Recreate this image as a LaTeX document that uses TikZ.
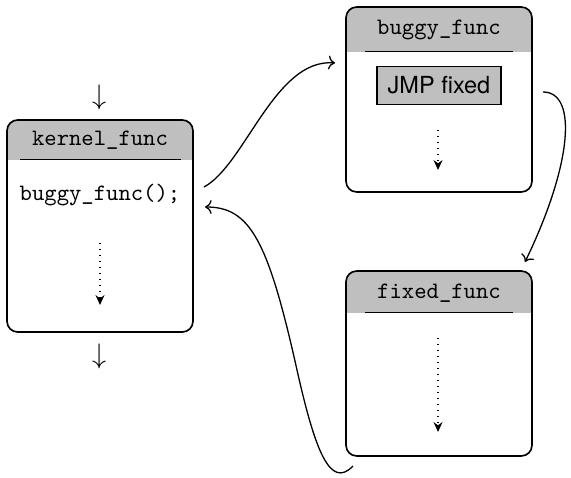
\documentclass[tikz,border=0pt]{standalone}
\usepackage{fontspec}
\newfontfamily\heros{TeX Gyre Heros}
\usetikzlibrary{arrows.meta}

\tikzset{
  % rounded function box with a grey title band of height #1
  funcbox/.style={draw, line width=0.7pt, rounded corners=4.5pt, fill=white,
    minimum width=79pt, inner sep=0pt,
    path picture={\fill[lightgray, sharp corners] (path picture bounding box.north west)
      rectangle ([yshift=-#1]path picture bounding box.north east);}},
  functitle/.style={font=\ttfamily, inner sep=1pt},
  headrule/.style={line width=0.7pt},
  flow/.style={dotted, line width=0.55pt, -{Stealth[length=4.2pt,width=3.8pt]}},
  jump/.style={line width=0.55pt, ->},
}

\begin{document}
\begin{tikzpicture}[x=0.425pt, y=-0.425pt]
\useasboundingbox (0,0) rectangle (571,478);

% ---- kernel_func ----
\node[funcbox=17pt, minimum height=90.1pt] (kernel) at (100,226) {};
\node[functitle] (ktitle) at (100,140) {kernel\_func};
\draw[headrule] ([xshift=5.9pt,yshift=-17.2pt]kernel.north west)
  -- ([xshift=-5.6pt,yshift=-17.2pt]kernel.north east);
\node[font=\ttfamily, inner sep=1pt] (call) at (100,195) {buggy\_func();};
\coordinate (kfs) at (100,243);
\coordinate (kfe) at (100,305);
\draw[flow] (kfs) -- (kfe);
\node[inner sep=0pt, font=\large] (inarr) at (100,97) {$\downarrow$};
\node[inner sep=0pt, font=\large] (outarr) at (100,356) {$\downarrow$};

% ---- buggy_func ----
\node[funcbox=19pt, minimum height=78.6pt] (buggy) at (439,99.5) {};
\node[functitle] (btitle) at (439,30) {buggy\_func};
\draw[headrule] ([xshift=8.5pt,yshift=-19.2pt]buggy.north west)
  -- ([xshift=-8.5pt,yshift=-19.2pt]buggy.north east);
\node[draw, line width=0.7pt, fill=lightgray, font=\heros, inner sep=0pt,
  minimum width=52.7pt, minimum height=16.2pt] (jmp) at (439,85.5) {JMP fixed};
\coordinate (bfs) at (438,130);
\coordinate (bfe) at (438,170);
\draw[flow] (bfs) -- (bfe);

% ---- fixed_func ----
\node[funcbox=17.9pt, minimum height=78.6pt] (fixed) at (439,363.5) {};
\node[functitle] (ftitle) at (439,293) {fixed\_func};
\draw[headrule] ([xshift=8.5pt,yshift=-18pt]fixed.north west)
  -- ([xshift=-8.5pt,yshift=-18pt]fixed.north east);
\coordinate (ffs) at (438,338);
\coordinate (ffe) at (438,432);
\draw[flow] (ffs) -- (ffe);

% ---- control transfers ----
\coordinate (callout) at (204,187);
\coordinate (buggyin) at (335,63);
\coordinate (jmpout) at (543,92);
\coordinate (fixedin) at (525,262);
\coordinate (fixedout) at (353,466);
\coordinate (retin) at (205,207);
\coordinate (retmid) at (297,370);

\draw[jump] (callout) .. controls (245,165) and (275,58) .. (buggyin);
\draw[jump] (jmpout) .. controls (578,92) and (572,165) .. (fixedin);
\draw[jump] (fixedout) .. controls (330,490) and (315,450) .. (retmid)
  .. controls (268,240) and (250,207) .. (retin);
\end{tikzpicture}
\end{document}
